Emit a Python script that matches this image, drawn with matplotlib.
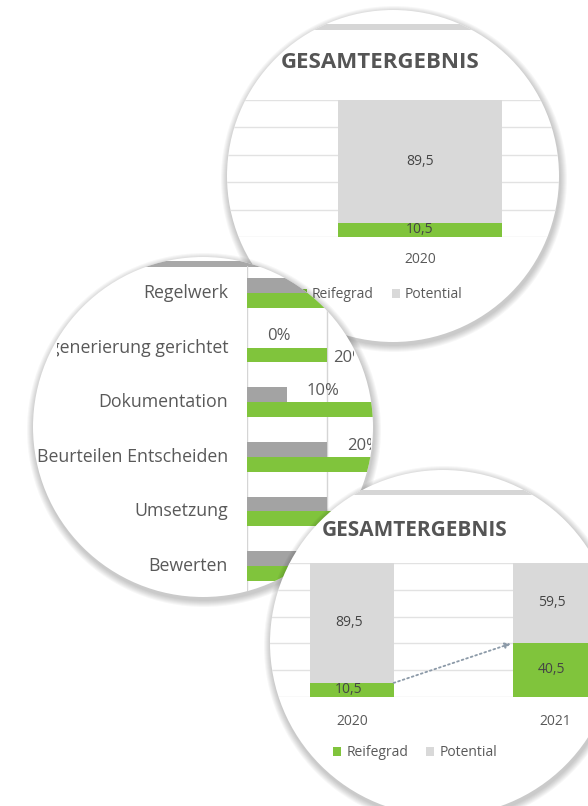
import matplotlib
matplotlib.use("Agg")
import matplotlib.pyplot as plt
import matplotlib.transforms as mtransforms
from matplotlib.patches import Circle, Rectangle
import numpy as np

plt.rcParams['font.family'] = ['Open Sans', 'DejaVu Sans']

# ---------------- data ----------------
top_years = ["2020"]
top_reifegrad = [10.5]
top_potential = [89.5]

categories = ["Regelwerk", "generierung gerichtet", "Dokumentation",
              "Beurteilen Entscheiden", "Umsetzung", "Bewerten"]
gray_pct = [20, 0, 10, 20, 20, 20]
green_pct = [20, 20, 40, 40, 30, 30]

bottom_years = ["2020", "2021"]
bottom_reifegrad = [10.5, 40.5]
bottom_potential = [89.5, 59.5]

legend_labels = ["Reifegrad", "Potential"]
title_text = "GESAMTERGEBNIS"

# ---------------- style ----------------
W, H, DPI = 588, 806, 100
GREEN = '#80c43c'
LGRAY = '#d9d9d9'
DGRAY = '#a3a3a3'
GRID = '#e2e2e2'
TXT = '#595959'
VAL = '#454545'

fig = plt.figure(figsize=(W / DPI, H / DPI), dpi=DPI)
fig.patch.set_facecolor('white')


def px_axes(z):
    a = fig.add_axes([0, 0, 1, 1], zorder=z)
    a.set_xlim(0, W)
    a.set_ylim(H, 0)
    a.axis('off')
    a.patch.set_alpha(0)
    return a


def content_axes(x0, y0, x1, y1, z):
    a = fig.add_axes([x0 / W, 1 - y1 / H, (x1 - x0) / W, (y1 - y0) / H], zorder=z)
    a.patch.set_visible(False)
    for s in a.spines.values():
        s.set_visible(False)
    return a


def disk(a, cx, cy, r):
    n = 7
    for i in range(n):
        a.add_patch(Circle((cx + 1, cy + 3), r + n - i, facecolor='black',
                           alpha=0.03, lw=0))
    a.add_patch(Circle((cx, cy), r, facecolor='white', lw=0))
    return Circle((cx, cy), r, transform=a.transData, facecolor='none', edgecolor='none')


def clip(artists, c):
    for art in artists:
        art.set_clip_path(c)
        art.set_clip_on(True)


def inside(px, py, circ):
    cx, cy, r = circ
    return (px - cx) ** 2 + (py - cy) ** 2 < r ** 2


def clip_text_row(t, pax, circ, covers=(), half_h=8):
    """Clip a one-line text with a rectangle equal to the circle chord at its row;
    hide it when its anchor lies outside its circle or under a circle drawn above."""
    cx, cy, r = circ
    tx, ty = t.get_transform().transform(t.get_position())
    px, py = pax.transData.inverted().transform((tx, ty))
    if not inside(px, py, circ) or any(inside(px, py, c) for c in covers):
        t.set_visible(False)
        return
    ccx, ccy = pax.transData.transform((cx, cy))
    rr = abs(pax.transData.transform((cx + r, cy))[0] - ccx)
    dy = abs(ty - ccy) + half_h
    dx = np.sqrt(max(rr ** 2 - dy ** 2, 0))
    t.set_clip_path(None)
    t.set_clip_box(mtransforms.Bbox.from_extents(ccx - dx, ty - 30, ccx + dx, ty + 30))
    t.set_clip_on(True)


def fmt(v):
    return f"{v:.1f}".replace('.', ',')


C1 = (393, 176, 166)
C2 = (203, 427, 170)
C3 = (443, 643, 173)

# ======== circle 1 (top) ========
p1 = px_axes(1)
c1 = disk(p1, *C1)
band = p1.add_patch(Rectangle((220, 24), 360, 6, facecolor='#d6d6d6', lw=0))
clip([band], c1)
p1.text(380, 62, title_text, ha='center', va='center', fontsize=16,
        fontweight='bold', color='#555555')

a1 = content_axes(157.6, 100, 682.4, 237, 2)
a1.set_xlim(-1.6, 1.6)
a1.set_ylim(0, 100)
x1 = np.arange(len(top_years))
for v in np.arange(0, 101, 20):
    ln = a1.axhline(v, color=GRID, lw=1, zorder=0)
    clip([ln], c1)
b1g = a1.bar(x1, top_reifegrad, width=1.0, color=GREEN, zorder=2)
b1p = a1.bar(x1, top_potential, bottom=top_reifegrad, width=1.0, color=LGRAY, zorder=2)
clip(list(b1g) + list(b1p), c1)
for xi, g, p in zip(x1, top_reifegrad, top_potential):
    a1.text(xi, g / 2, fmt(g), ha='center', va='center', fontsize=10, color=VAL)
    a1.text(xi, g + p / 2, fmt(p), ha='center', va='center', fontsize=10, color=VAL)
a1.set_xticks(x1, top_years)
a1.set_yticks([])
a1.tick_params(axis='x', length=0, pad=11, labelsize=10, labelcolor=TXT)
a1.legend([b1g, b1p], legend_labels, loc='center', bbox_to_anchor=(0.425, -0.42),
          ncol=2, frameon=False, handlelength=0.6, handleheight=0.6,
          handletextpad=0.35, columnspacing=1.3, fontsize=10, labelcolor=TXT)

# ======== circle 2 (middle left) ========
p2 = px_axes(3)
c2 = disk(p2, *C2)
band2 = p2.add_patch(Rectangle((30, 261), 360, 6, facecolor='#a8a8a8', lw=0))
clip([band2], c2)

row_px = 54.6
a2 = content_axes(247, 293 - row_px / 2, 447, 293 + 5.5 * row_px, 4)
a2.set_xlim(0, 50)
a2.set_ylim(len(categories) - 0.5, -0.5)
a2.axis('off')
for v in [0, 20, 40]:
    ln = a2.axvline(v, color='#d5d5d5', lw=1, zorder=0)
    clip([ln], c2)
y2 = np.arange(len(categories))
hbar = 0.27
bg = a2.barh(y2 - hbar / 2, gray_pct, height=hbar, color=DGRAY, zorder=2)
bgr = a2.barh(y2 + hbar / 2, green_pct, height=hbar, color=GREEN, zorder=2)
clip(list(bg) + list(bgr), c2)
off_lbl = mtransforms.ScaledTranslation(-19 / DPI, 0, fig.dpi_scale_trans)
off_g = mtransforms.ScaledTranslation(20 / DPI, 0, fig.dpi_scale_trans)
off_gr = mtransforms.ScaledTranslation(6 / DPI, 0, fig.dpi_scale_trans)
cat_texts, val_texts = [], []
for yi, cat in zip(y2, categories):
    cat_texts.append(a2.text(0, yi, cat, ha='right', va='center', fontsize=12.8,
                             color=TXT, transform=a2.transData + off_lbl))
for yi, v in zip(y2, gray_pct):
    val_texts.append(a2.text(v, yi - hbar / 2 - 0.07, f"{v}%", ha='left', va='center',
                             fontsize=12, color=TXT, transform=a2.transData + off_g))
for yi, v in zip(y2, green_pct):
    val_texts.append(a2.text(v, yi + hbar / 2 + 0.05, f"{v}%", ha='left', va='center',
                             fontsize=12, color=TXT, transform=a2.transData + off_gr))
for t in cat_texts:
    clip_text_row(t, p2, C2, covers=())
for t in val_texts:
    clip_text_row(t, p2, C2, covers=(C1, C3))

# ======== circle 3 (bottom right) ========
p3 = px_axes(5)
c3 = disk(p3, *C3)
band3 = p3.add_patch(Rectangle((260, 490), 340, 5, facecolor='#d6d6d6', lw=0))
clip([band3], c3)
p3.text(415, 530, title_text, ha='center', va='center', fontsize=15,
        fontweight='bold', color='#555555')

a3 = content_axes(352 - 0.6 * 203, 563, 352 + 1.6 * 203, 697, 6)
a3.set_xlim(-0.6, 1.6)
a3.set_ylim(0, 100)
x3 = np.arange(len(bottom_years))
for v in np.arange(0, 101, 20):
    ln = a3.axhline(v, color=GRID, lw=1, zorder=0)
    clip([ln], c3)
wb = 0.41
b3g = a3.bar(x3, bottom_reifegrad, width=wb, color=GREEN, zorder=2)
b3p = a3.bar(x3, bottom_potential, bottom=bottom_reifegrad, width=wb, color=LGRAY, zorder=2)
clip(list(b3g) + list(b3p), c3)
for xi, g, p in zip(x3, bottom_reifegrad, bottom_potential):
    a3.text(xi - 0.015, g / 2, fmt(g), ha='center', va='center', fontsize=10, color=VAL)
    a3.text(xi - 0.015, g + p / 2, fmt(p), ha='center', va='center', fontsize=10, color=VAL)
a3.annotate("", xy=(x3[1] - wb / 2, bottom_reifegrad[1]),
            xytext=(x3[0] + wb / 2, bottom_reifegrad[0]),
            arrowprops=dict(arrowstyle='-|>', linestyle=':', color='#8c9aa8',
                            lw=1.3, mutation_scale=8, shrinkA=0, shrinkB=2))
a3.set_xticks(x3, bottom_years)
a3.set_yticks([])
a3.tick_params(axis='x', length=0, pad=12, labelsize=10, labelcolor=TXT)
a3.legend([b3g, b3p], legend_labels, loc='center',
          bbox_to_anchor=((415 - (352 - 0.6 * 203)) / (2.2 * 203), -(753 - 697) / 134),
          ncol=2, frameon=False, handlelength=0.6, handleheight=0.6,
          handletextpad=0.35, columnspacing=1.3, fontsize=10, labelcolor=TXT)

fig.savefig("out.png", dpi=DPI, facecolor='white')
